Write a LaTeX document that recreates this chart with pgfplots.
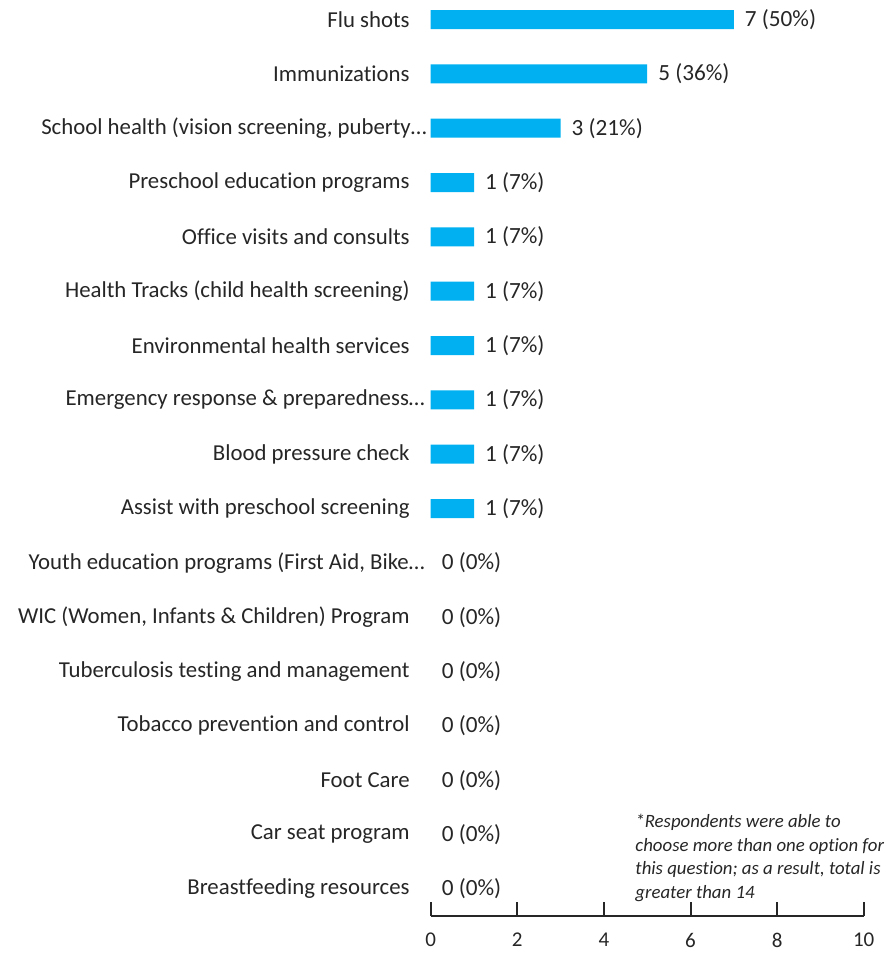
\documentclass[border=0pt]{standalone}
\usepackage{pgfplots}
\pgfplotsset{compat=1.18}
\usepackage{fontspec}
\setmainfont{Carlito}[Ligatures=NoCommon]
\definecolor{barblue}{HTML}{00B0F0}
\definecolor{txt}{HTML}{262626}
\begin{document}
\begin{tikzpicture}[x=1pt,y=1pt]
\begin{axis}[
  at={(215.35pt,20.5pt)}, anchor=south west,
  scale only axis, width=216.5pt, height=458pt,
  xbar, bar width=9.5pt, bar shift=0pt,
  xmin=0, xmax=10, ymin=-0.5, ymax=16.36,
  xtick={0,2,4,6,8,10},
  ytick={0,...,16},
  yticklabels={Breastfeeding resources, Car seat program, Foot Care, Tobacco prevention and control, Tuberculosis testing and management, {WIC (Women, Infants \& Children) Program}, {Youth education programs (First Aid, Bike…\kern-7.5pt}, Assist with preschool screening, Blood pressure check, Emergency response \& preparedness…\kern-7.5pt, Environmental health services, Health Tracks (child health screening), Office visits and consults, Preschool education programs, {School health (vision screening, puberty…\kern-8.5pt}, Immunizations, Flu shots},
  axis lines*=left,
  y axis line style={draw=none},
  ytick style={draw=none},
  x axis line style={black!85, line width=1pt},
  xtick style={black!85, line width=1pt},
  xtick align=inside, major tick length=7pt,
  yticklabel style={font=\fontsize{11.4}{14}\selectfont, text=txt, xshift=0pt},
  xticklabel style={font=\fontsize{10.5}{13}\selectfont, text=txt, yshift=-5pt},
  /pgf/number format/assume math mode=true,
  point meta=explicit symbolic,
  nodes near coords,
  nodes near coords style={font=\fontsize{11.6}{14}\selectfont, text=txt, anchor=west, xshift=2pt},
  clip=false,
]
\addplot[draw=none, fill=none] coordinates {
(0,0) [0 (0\%)]
(0,1) [0 (0\%)]
(0,2) [0 (0\%)]
(0,3) [0 (0\%)]
(0,4) [0 (0\%)]
(0,5) [0 (0\%)]
(0,6) [0 (0\%)]
};
\addplot[fill=barblue, draw=none] coordinates {
(1,7) [1 (7\%)]
(1,8) [1 (7\%)]
(1,9) [1 (7\%)]
(1,10) [1 (7\%)]
(1,11) [1 (7\%)]
(1,12) [1 (7\%)]
(1,13) [1 (7\%)]
(3,14) [3 (21\%)]
(5,15) [5 (36\%)]
(7,16) [7 (50\%)]
};
\node[anchor=north west, align=left, inner sep=0pt, text=txt, font=\fontsize{9.4}{11.8}\selectfont\itshape] at (axis cs:4.72,1.378) {*Respondents were able to\\choose more than one option for\\this question; as a result, total is\\greater than 14};
\end{axis}
\pgfresetboundingbox
\path[use as bounding box] (0,0) rectangle (442.5pt,478.5pt);
\end{tikzpicture}
\end{document}
